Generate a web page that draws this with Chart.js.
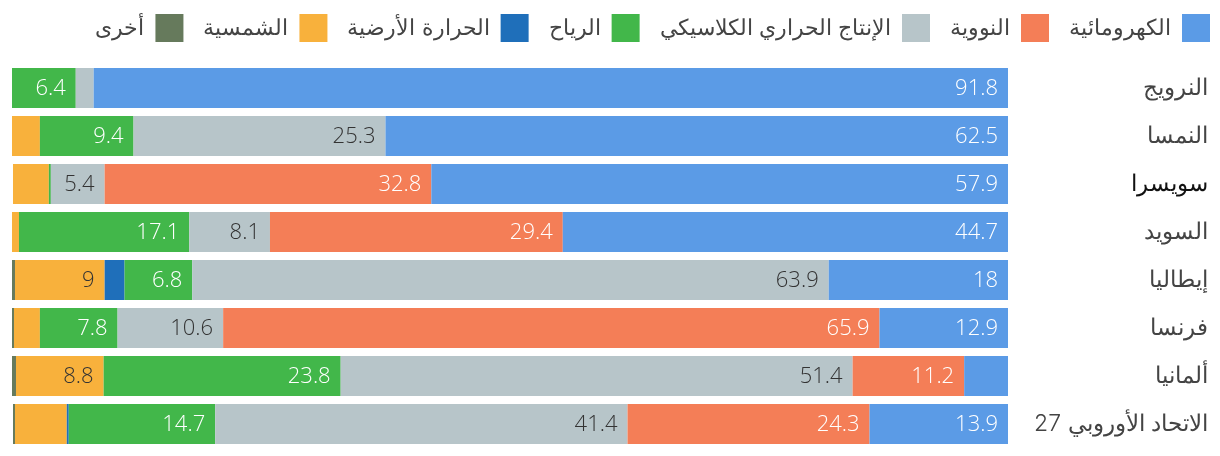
<!DOCTYPE html>
<html>
<head>
<meta charset="utf-8">
<script src="https://cdn.jsdelivr.net/npm/chart.js@4"></script>
<style>
html,body{margin:0;padding:0;background:#fff;}
#wrap{width:1220px;height:456px;position:relative;}
canvas{direction:rtl;}
</style>
</head>
<body>
<div id="wrap"><canvas id="c" width="1220" height="456" dir="rtl"></canvas></div>
<script>
const categories = ["النرويج","النمسا","سويسرا","السويد","إيطاليا","فرنسا","ألمانيا","الاتحاد الأوروبي 27"];
const seriesNames = ["الكهرومائية","النووية","الإنتاج الحراري الكلاسيكي","الرياح","الحرارة الأرضية","الشمسية","أخرى"];
const hydro      = [91.8, 62.5, 57.9, 44.7, 18.0, 12.9, 4.4, 13.9];
const nuclear    = [0,    0,    32.8, 29.4, 0,    65.9, 11.2, 24.3];
const thermal    = [1.8,  25.3, 5.4,  8.1,  63.9, 10.6, 51.4, 41.4];
const wind       = [6.4,  9.4,  0.2,  17.1, 6.8,  7.8,  23.8, 14.7];
const geothermal = [0,    0,    0,    0,    2.0,  0,    0,    0.2];
const solar      = [0,    2.8,  3.6,  0.7,  9.0,  2.6,  8.8,  5.2];
const other      = [0,    0,    0,    0,    0.3,  0.2,  0.4,  0.2];
const seriesValues = [hydro, nuclear, thermal, wind, geothermal, solar, other];
const colors = ["#5b9be6","#f47e57","#b7c5c9","#42b74a","#1f6fba","#f8b13c","#667a5c"];
const labelColors = ["#ffffff","#ffffff","#333333","#ffffff","#ffffff","#333333","#ffffff"];
const labelThreshold = 5.3;

const numFont = "'Open Sans', 'Noto Sans', sans-serif";
const txtFont = "Inter, 'Noto Sans', sans-serif";

const valueLabels = {
  id: 'valueLabels',
  afterInit(chart) {
    const lg = chart.legend;
    if (!lg) return;
    const fit = lg.fit;
    lg.fit = function () { fit.call(this); this.height += 6; };
    const draw = lg.draw;
    lg.draw = function () {
      const c = this.ctx;
      c.save();
      c.translate(22, -6);
      draw.apply(this, arguments);
      c.restore();
    };
  },
  afterDatasetsDraw(chart) {
    const ctx = chart.ctx;
    ctx.save();
    ctx.font = "300 22px " + numFont;
    ctx.textAlign = 'right';
    ctx.textBaseline = 'middle';
    chart.data.datasets.forEach((ds, di) => {
      const meta = chart.getDatasetMeta(di);
      meta.data.forEach((el, i) => {
        const v = ds.data[i];
        if (v < labelThreshold) return;
        const right = Math.max(el.x, el.base);
        ctx.fillStyle = labelColors[di];
        ctx.fillText(String(v), right - 10, el.y + 1);
      });
    });
    ctx.restore();
  }
};

new Chart(document.getElementById('c'), {
  type: 'bar',
  data: {
    labels: categories,
    datasets: seriesValues.map((vals, i) => ({
      label: seriesNames[i],
      data: vals,
      backgroundColor: colors[i],
      borderWidth: 0,
      barPercentage: 1,
      categoryPercentage: 40/48
    }))
  },
  options: {
    indexAxis: 'y',
    responsive: false,
    animation: false,
    devicePixelRatio: 1,
    layout: { padding: { left: 12, right: 12, top: 0, bottom: 8 } },
    scales: {
      x: {
        stacked: true,
        reverse: true,
        min: 0, max: 100,
        display: false
      },
      y: {
        stacked: true,
        position: 'right',
        grid: { display: false },
        border: { display: false },
        afterFit(scale) { scale.width = 200; scale.paddingTop = 0; scale.paddingBottom = 0; },
        ticks: {
          crossAlign: 'far',
          padding: 0,
          color: (c) => c.index === 2 ? '#111111' : '#444444',
          font: (c) => ({ family: txtFont, size: 23, weight: c.index === 2 ? '500' : '300' })
        }
      }
    },
    plugins: {
      tooltip: { enabled: false },
      legend: {
        position: 'top',
        align: 'start',
        rtl: true,
        textDirection: 'rtl',
        labels: {
          boxWidth: 28,
          boxHeight: 28,
          padding: 20,
          color: '#444444',
          font: { family: txtFont, size: 22, weight: '300' }
        }
      }
    }
  },
  plugins: [valueLabels]
});
</script>
</body>
</html>
